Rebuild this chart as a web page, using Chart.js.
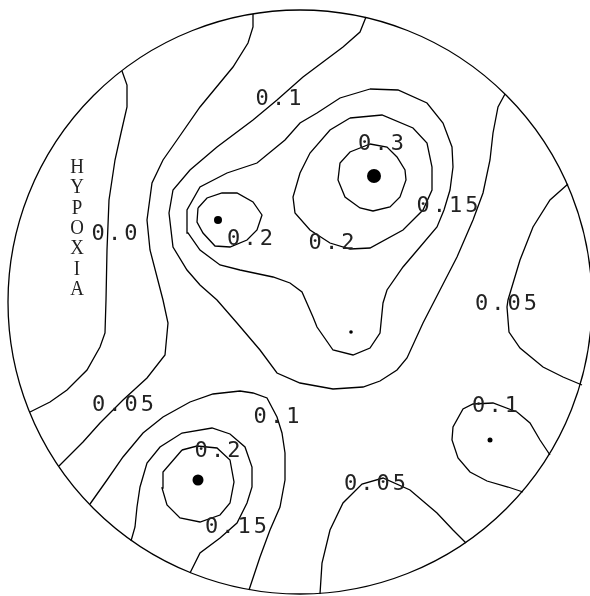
<!DOCTYPE html>
<html><head><meta charset="utf-8">
<script src="https://cdn.jsdelivr.net/npm/chart.js@4"></script>
<style>html,body{margin:0;padding:0;background:#fff;}canvas{display:block}</style>
</head><body>
<canvas id="c" width="590" height="596"></canvas>
<script>
// Head-space coordinates: origin at head centre, y up, head radius = HEAD_R
const HEAD_R = 292;

// Contour paths [x, y]
const c000 = [[-178,231],[-173,217],[-173,195],[-179,169],[-185,142],[-191,102],[-193,52],[-194,2],[-195,-31],[-200,-45],[-213,-68],[-233,-88],[-250,-100],[-270,-110]];
const c005Left = [[-47,288],[-47,275],[-52,259],[-67,235],[-100,195],[-123,162],[-137,142],[-148,119],[-153,82],[-150,52],[-137,2],[-132,-21],[-135,-53],[-153,-76],[-177,-98],[-200,-121],[-217,-140],[-241,-164]];
const c010Upper = [[66,285],[60,270],[43,255],[23,240],[3,225],[-23,202],[-47,182],[-83,155],[-110,132],[-127,112],[-131,89],[-127,55],[-113,32],[-100,17],[-83,2],[-63,-21],[-40,-48],[-23,-71],[0,-81],[33,-87],[63,-85],[80,-79],[97,-68],[107,-56],[123,-21],[140,12],[157,45],[173,82],[183,109],[190,142],[193,169],[198,195],[205,208]];
const c015Upper = [[70,213],[98,212],[127,199],[143,179],[152,155],[153,135],[150,112],[144,92],[137,75],[120,55],[103,35],[87,12],[83,-1],[80,-31],[70,-46],[53,-53],[33,-48],[17,-25],[13,-15],[2,10],[-10,19],[-27,25],[-60,32],[-80,37],[-100,52],[-112,69],[-113,92],[-100,115],[-73,129],[-43,139],[-15,162],[0,179],[17,189],[40,204],[70,213]];
const c020Peak = [[50,184],[82,187],[113,174],[127,159],[132,135],[132,112],[123,92],[103,72],[70,54],[50,53],[30,59],[10,72],[-5,89],[-7,105],[0,129],[10,149],[30,172],[50,184]];
const c030Peak = [[70,158],[87,155],[97,145],[105,132],[106,122],[100,105],[90,95],[73,91],[60,94],[45,105],[38,122],[40,139],[50,150],[70,158]];
const c020Left = [[-102,94],[-93,104],[-78,109],[-63,109],[-47,100],[-38,87],[-43,72],[-53,62],[-70,55],[-85,56],[-97,69],[-103,80],[-102,94]];
const c005Right = [[268,118],[250,102],[233,75],[220,42],[208,2],[207,-5],[209,-30],[220,-46],[243,-65],[263,-75],[282,-83]];
const c010Right = [[250,-153],[240,-138],[230,-121],[217,-110],[193,-101],[173,-102],[163,-107],[153,-125],[152,-138],[158,-156],[170,-170],[187,-179],[208,-185],[223,-190]];
const c005Bottom = [[20,-292],[22,-261],[30,-228],[43,-201],[62,-182],[83,-176],[110,-188],[137,-211],[153,-228],[166,-241]];
const c010Lower = [[-210,-202],[-193,-178],[-177,-155],[-157,-131],[-137,-115],[-110,-100],[-87,-92],[-60,-89],[-47,-91],[-33,-96],[-23,-115],[-18,-131],[-15,-151],[-15,-178],[-20,-205],[-30,-228],[-40,-255],[-51,-288]];
const c015Lower = [[-169,-239],[-165,-225],[-163,-205],[-160,-185],[-153,-161],[-140,-145],[-118,-131],[-88,-126],[-70,-132],[-55,-145],[-48,-165],[-48,-185],[-53,-201],[-63,-221],[-80,-236],[-100,-251],[-110,-271]];
const c020Lower = [[-118,-148],[-103,-144],[-83,-146],[-70,-158],[-66,-180],[-70,-201],[-80,-213],[-100,-220],[-120,-216],[-133,-203],[-138,-186],[-137,-170],[-118,-148]];

const contourPaths = [c000,c005Left,c010Upper,c015Upper,c020Peak,c030Peak,c020Left,c005Right,c010Right,c005Bottom,c010Lower,c015Lower,c020Lower];

// Peak markers
const peakX = [74,-82,51,190,-102];
const peakY = [126,82,-30,-138,-178];
const peakSize = [7,4,1.8,2.5,5.5];

// Contour level labels
const labelText = ['0.1','0.3','0.15','0.2','0.2','0.0','0.05','0.05','0.1','0.1','0.2','0.05','0.15'];
const labelX = [-21.5,81,147.5,-50,31.5,-185.5,206,-177,-23.5,195,-82.5,75,-64];
const labelY = [203,158,95.5,63,58.5,68,-2,-103,-115.5,-104,-149.5,-182,-225.5];

// Vertical title
const titleLetters = ['H','Y','P','O','X','I','A'];
const titleX = -223;
const titleY = [134.5,114.2,93.9,73.6,53.3,33,12.7];

const headOutline = {
  id:'headOutline',
  beforeDatasetsDraw(chart){
    const {ctx, scales:{x,y}} = chart;
    const cx = x.getPixelForValue(0), cy = y.getPixelForValue(0);
    const r = x.getPixelForValue(HEAD_R) - cx;
    ctx.save();
    ctx.beginPath();
    ctx.arc(cx, cy, r, 0, Math.PI*2);
    ctx.lineWidth = 1.3;
    ctx.strokeStyle = '#000';
    ctx.stroke();
    ctx.restore();
  }
};

const PITCH = 16.3;
const textLabels = {
  id:'textLabels',
  afterDatasetsDraw(chart){
    const {ctx, scales:{x,y}} = chart;
    ctx.save();
    ctx.fillStyle = '#222';
    ctx.textAlign = 'center';
    ctx.textBaseline = 'middle';
    ctx.font = '22px "DejaVu Sans Mono"';
    labelText.forEach((t,i)=>{
      const px = x.getPixelForValue(labelX[i]);
      const py = y.getPixelForValue(labelY[i]);
      const n = t.length;
      for (let k = 0; k < n; k++) {
        ctx.fillText(t[k], px + (k - (n-1)/2) * PITCH, py);
      }
    });
    ctx.font = '21px "Liberation Serif"';
    titleLetters.forEach((t,i)=>{
      ctx.save();
      ctx.translate(x.getPixelForValue(titleX), y.getPixelForValue(titleY[i]));
      ctx.scale(0.9, 1);
      ctx.fillText(t, 0, 0);
      ctx.restore();
    });
    ctx.restore();
  }
};

const datasets = contourPaths.map(p=>({
  data: p.map(([px,py])=>({x:px,y:py})),
  showLine:true, pointRadius:0, borderColor:'#000', borderWidth:1.3, fill:false, tension:0
}));
datasets.push({
  data: peakX.map((v,i)=>({x:v,y:peakY[i]})),
  showLine:false, pointRadius: peakSize, backgroundColor:'#000', borderWidth:0
});

new Chart(document.getElementById('c'), {
  type:'scatter',
  data:{datasets},
  options:{
    responsive:false, animation:false, events:[],
    layout:{padding:0, autoPadding:false},
    plugins:{legend:{display:false}, tooltip:{enabled:false}},
    scales:{
      x:{type:'linear', min:-300, max:290, display:false},
      y:{type:'linear', min:-294, max:302, display:false}
    }
  },
  plugins:[headOutline, textLabels]
});
</script>
</body></html>
